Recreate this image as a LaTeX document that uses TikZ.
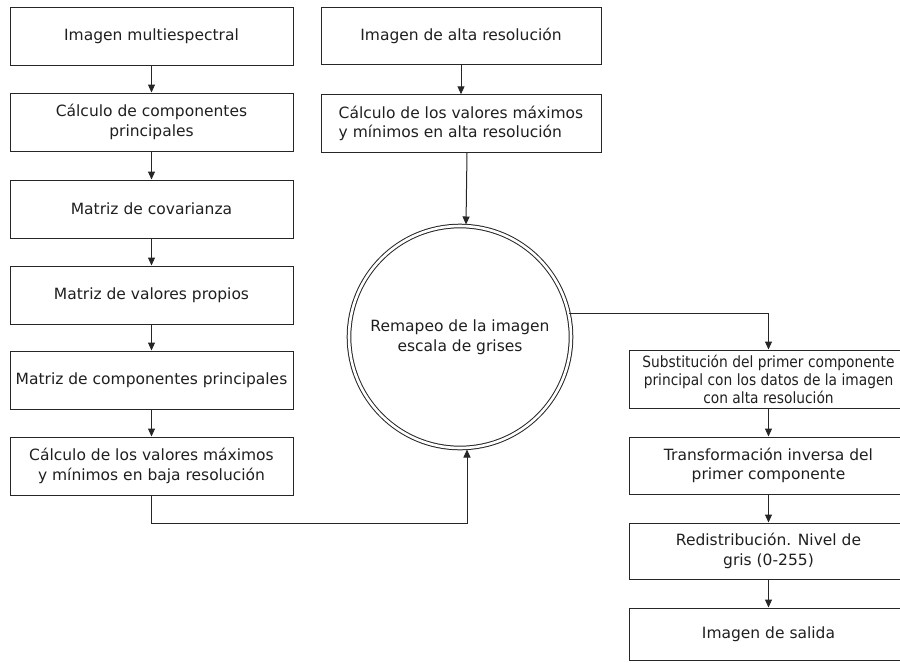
\documentclass[tikz,border=0pt]{standalone}
\usepackage{fontspec}
\setmainfont{DejaVu Sans}
\newfontfamily\narrowfont[FakeStretch=0.89]{DejaVu Sans}
\usetikzlibrary{arrows.meta}

\tikzset{
  inkline/.style={draw=black!85, line width=1pt},
  stepbox/.style={inkline, rectangle, inner sep=0pt, align=center,
    text=black!88, font=\fontsize{15.5}{19.5}\selectfont},
  leftbox/.style={stepbox, minimum width=283pt, minimum height=58pt},
  midbox/.style={stepbox, minimum width=280pt, minimum height=57.5pt},
  rightbox/.style={stepbox, minimum width=279pt},
  arr/.style={inkline, -{Triangle[length=8pt,width=7pt]}}
}

\begin{document}
\begin{tikzpicture}[x=1pt,y=1pt]
  \useasboundingbox (0,0) rectangle (900,-662);
  \clip (0,0) rectangle (900,-662);

  % left column: principal component analysis of the multispectral image
  \node[leftbox] (l1) at (151.5,-36)  {Imagen multiespectral};
  \node[leftbox] (l2) at (151.5,-122) {Cálculo de componentes\\principales};
  \node[leftbox] (l3) at (151.5,-209) {Matriz de covarianza};
  \node[leftbox] (l4) at (151.5,-295) {Matriz de valores propios};
  \node[leftbox] (l5) at (151.5,-380) {Matriz de componentes principales};
  \node[leftbox] (l6) at (151.5,-466) {Cálculo de los valores máximos\\y mínimos en baja resolución};

  % middle column: high resolution image
  \node[midbox] (m1) at (461,-36) {Imagen de alta resolución};
  \node[midbox, align=left] (m2) at (461,-123.5)
    {Cálculo de los valores máximos\\y mínimos en alta resolución};

  % grey level remapping
  \node[circle, draw=black!85, line width=1pt, double=white, double distance=2.6pt,
        minimum size=222pt, inner sep=0pt, align=center, text=black!88,
        font=\fontsize{15.5}{19.5}\selectfont] (remap) at (460,-337)
    {Remapeo de la imagen\\escala de grises};

  % right column: substitution and inverse transform
  \node[rightbox, minimum height=58pt, font=\narrowfont\fontsize{15.5}{18}\selectfont] (r1) at (768.5,-379)
    {Substitución del primer componente\\principal con los datos de la imagen\\con alta resolución};
  \node[rightbox, minimum height=57pt] (r2) at (768.5,-465.5) {Transformación inversa del\\primer componente};
  \node[rightbox, minimum height=56pt] (r3) at (768.5,-551) {Redistribución. Nivel de\\gris (0-255)};
  \node[rightbox, minimum height=52pt] (r4) at (768.5,-634) {Imagen de salida};

  % connectors
  \draw[arr] (l1) -- (l2);
  \draw[arr] (l2) -- (l3);
  \draw[arr] (l3) -- (l4);
  \draw[arr] (l4) -- (l5);
  \draw[arr] (l5) -- (l6);

  \draw[arr] (m1) -- (m2);
  \draw[arr] ([xshift=6pt]m2.south) -- ([xshift=6pt,yshift=1pt]remap.north);

  \coordinate (lowturn) at ([yshift=-28pt]l6.south);
  \draw[arr] (l6.south) -- (lowturn) -| ([xshift=7pt,yshift=-1pt]remap.south);

  \draw[arr] (remap.12) -| (r1.north);
  \draw[arr] (r1) -- (r2);
  \draw[arr] (r2) -- (r3);
  \draw[arr] (r3) -- (r4);
\end{tikzpicture}
\end{document}
